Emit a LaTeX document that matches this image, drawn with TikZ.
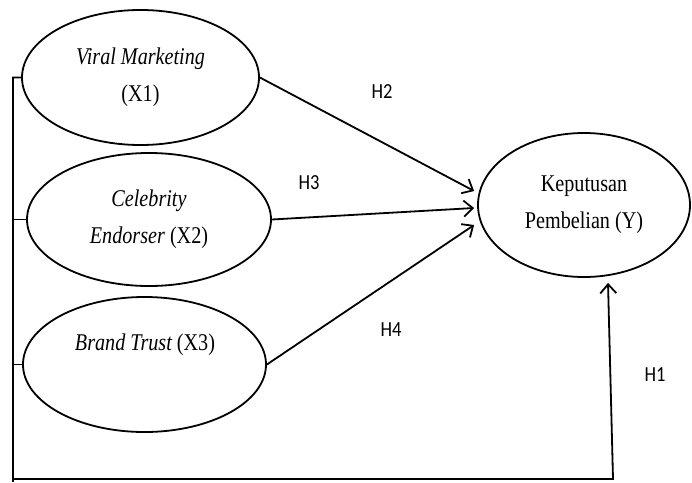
\documentclass[tikz,border=0pt]{standalone}
\usepackage{fontspec}
\usetikzlibrary{arrows.meta,shapes.geometric,calc}
\newfontfamily\serf[FakeStretch=0.84]{Liberation Serif}
\newfontfamily\hsans[FakeStretch=0.86]{Carlito}
\begin{document}
\begin{tikzpicture}[x=1pt,y=-1pt,
  line width=1.8pt,
  var/.style={draw,ellipse,inner sep=0pt,align=center,
    font=\serf\fontsize{24}{37}\selectfont},
  vtext/.style={inner sep=0pt,font=\serf\fontsize{24}{37}\selectfont},
  hyp/.style={inner sep=0pt,text depth=0pt,font=\hsans\fontsize{21.5}{24}\selectfont},
  arr/.style={-{Straight Barb[length=9pt,width=16pt]}}
]
\useasboundingbox (0,0) rectangle (692,482);
\node[var,minimum width=237pt,minimum height=135pt] (x1) at (140.5,77.5)
  {\itshape Viral Marketing\\(X1)};
\node[var,minimum width=244pt,minimum height=133pt] (x2) at (149,219.5)
  {\itshape Celebrity\\\itshape Endorser \upshape(X2)};
\node[var,minimum width=243pt,minimum height=135pt] (x3) at (144.5,364.5) {};
\node[vtext,anchor=base] (x3t) at (145,350) {\itshape Brand Trust \upshape(X3)};
\node[var,minimum width=212pt,minimum height=144pt] (y) at (584,205)
  {Keputusan\\Pembelian (Y)};

\coordinate (t1) at ($(y.west)+(-3,-14)$);
\coordinate (t2) at ($(y.west)+(-3,3)$);
\coordinate (t3) at ($(y.west)+(-3,20)$);
\coordinate (t4) at ($(y.south)+(24,5)$);
\coordinate (bl) at (13,479);
\coordinate (br) at (613,479);

\draw[arr] (x1.east) -- (t1);
\draw[arr] (x2.east) -- (t2);
\draw[arr] (x3.east) -- (t3);
\draw[arr] (x1.west) -- (x1.west -| bl) -- (bl) -- (br) -- (t4);
\draw (x2.west) -- (x2.west -| bl);
\draw (x3.west) -- (x3.west -| bl);
\draw (bl) -- ++(0,3);

\node[hyp] (h2) at (382,91.5) {H2};
\node[hyp] (h3) at (309,183) {H3};
\node[hyp] (h4) at (391,330) {H4};
\node[hyp] (h1) at (655,375) {H1};
\end{tikzpicture}
\end{document}
